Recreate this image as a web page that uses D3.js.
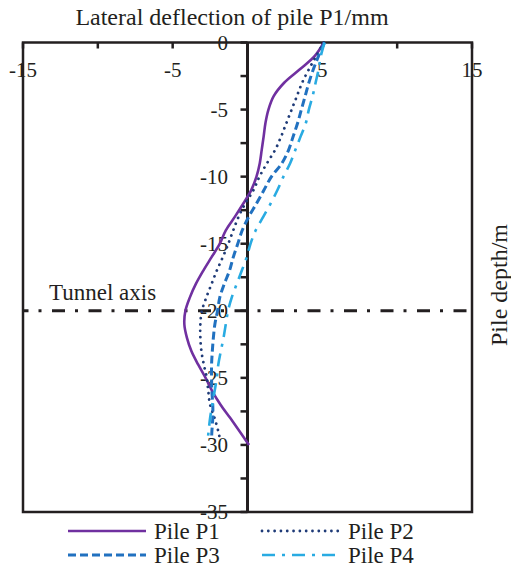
<!DOCTYPE html>
<html>
<head>
<meta charset="utf-8">
<script src="https://cdn.jsdelivr.net/npm/d3@7"></script>
<style>
  body { margin: 0; background: #fff; }
</style>
</head>
<body>
<svg id="chart" width="511" height="567" font-family="'Liberation Serif', 'DejaVu Serif', serif"></svg>
<script>
// depth along pile (m)
var depth = d3.range(0, -31, -1);
var depthShort = d3.range(0, -30, -1).concat([-29.5]);

// lateral deflection (mm)
var pileP1 = [5.1, 4.5, 3.5, 2.45, 1.75, 1.4, 1.2, 1.08, 0.95, 0.82, 0.6, 0.25, -0.28, -0.85, -1.45,
              -1.85, -2.4, -2.95, -3.45, -3.85, -4.15, -4.22, -4.05, -3.75, -3.3, -2.8, -2.35, -1.8, -1.15, -0.52, 0.1];
var pileP2 = [5.1, 4.6, 4.1, 3.65, 3.3, 2.95, 2.6, 2.25, 1.85, 1.3, 0.8, 0.4, -0.15, -0.6, -0.95,
              -1.28, -1.65, -2.05, -2.4, -2.75, -3.05, -3.15, -3.15, -3.08, -2.92, -2.72, -2.62, -2.5, -2.2, -1.95, -1.85];
var pileP3 = [5.15, 4.75, 4.4, 4.1, 3.85, 3.6, 3.35, 3.05, 2.75, 2.3, 1.6, 1.1, 0.6, 0.08, -0.35,
              -0.65, -0.95, -1.2, -1.55, -1.85, -2.0, -2.18, -2.28, -2.35, -2.4, -2.4, -2.38, -2.32, -2.32, -2.38, -2.4];
var pileP4 = [5.15, 4.9, 4.75, 4.55, 4.35, 4.1, 3.9, 3.55, 3.2, 2.85, 2.4, 2.0, 1.55, 1.05, 0.55,
              0.2, -0.05, -0.38, -0.72, -1.05, -1.3, -1.45, -1.6, -1.78, -1.95, -2.05, -2.2, -2.35, -2.5, -2.6, -2.65];

var xTicks = [-15, -10, -5, 0, 5, 10, 15];
var xLabels = [-15, -5, 5, 15];
var yTicks = d3.range(0, -35.1, -2.5);
var yLabels = [0, -5, -10, -15, -20, -25, -30, -35];
var tunnelDepth = -20;

var series = [
  {name: "Pile P1", d: depth, v: pileP1, color: "#7030a0", width: 2.6, dash: null, cap: "butt"},
  {name: "Pile P2", d: depthShort, v: pileP2, color: "#1f3b78", width: 2.8, dash: "0.01,6.3", cap: "round"},
  {name: "Pile P3", d: depthShort, v: pileP3, color: "#2171c0", width: 3, dash: "8,4", cap: "butt"},
  {name: "Pile P4", d: depthShort, v: pileP4, color: "#29abe2", width: 2.6, dash: "13,7,3,7", cap: "butt"}
];

var svg = d3.select("#chart");
var ink = "#231f20";

// scales
var x = d3.scaleLinear().domain([-15, 15]).range([23, 472]);
var y = d3.scaleLinear().domain([0, -35]).range([42.5, 512]);

// frame
svg.append("rect")
   .attr("x", x(-15)).attr("y", y(0))
   .attr("width", x(15) - x(-15)).attr("height", y(-35) - y(0))
   .attr("fill", "none").attr("stroke", ink).attr("stroke-width", 2.5);

// top axis ticks
svg.selectAll(".xtick")
   .data(xTicks)
   .enter()
   .append("line")
   .attr("x1", function(d) { return x(d); })
   .attr("x2", function(d) { return x(d); })
   .attr("y1", y(0))
   .attr("y2", y(0) + 6)
   .attr("stroke", ink).attr("stroke-width", 2.5);

svg.selectAll(".xlabel")
   .data(xLabels)
   .enter()
   .append("text")
   .attr("x", function(d) { return x(d); })
   .attr("y", 77)
   .attr("text-anchor", "middle")
   .attr("fill", ink)
   .style("font-size", "21px")
   .text(function(d) { return d; });

// zero axis with depth ticks
svg.append("line")
   .attr("x1", x(0)).attr("x2", x(0))
   .attr("y1", y(0)).attr("y2", y(-35))
   .attr("stroke", ink).attr("stroke-width", 3);

svg.selectAll(".ytick")
   .data(yTicks)
   .enter()
   .append("line")
   .attr("x1", x(0) - 7)
   .attr("x2", x(0))
   .attr("y1", function(d) { return y(d); })
   .attr("y2", function(d) { return y(d); })
   .attr("stroke", ink).attr("stroke-width", 2.5);

svg.selectAll(".ylabel")
   .data(yLabels)
   .enter()
   .append("text")
   .attr("x", 228)
   .attr("y", function(d) { return y(d); })
   .attr("dy", "0.35em")
   .attr("text-anchor", "end")
   .attr("fill", ink)
   .style("font-size", "21px")
   .text(function(d) { return d; });

// tunnel axis
svg.append("line")
   .attr("x1", x(-15)).attr("x2", x(15))
   .attr("y1", y(tunnelDepth)).attr("y2", y(tunnelDepth))
   .attr("stroke", ink).attr("stroke-width", 3)
   .attr("stroke-dasharray", "13,10,3,10.5")
   .attr("stroke-dashoffset", 7.5);

svg.append("text")
   .attr("x", 49).attr("y", 300)
   .attr("fill", ink)
   .style("font-size", "23px")
   .text("Tunnel axis");

// curves
var line = d3.line()
    .x(function(p) { return x(p[1]); })
    .y(function(p) { return y(p[0]); })
    .curve(d3.curveCatmullRom);

series.forEach(function(s) {
  var pts = s.d.map(function(dd, i) { return [dd, s.v[i]]; });
  svg.append("path")
     .datum(pts)
     .attr("d", line)
     .attr("fill", "none")
     .attr("stroke", s.color)
     .attr("stroke-width", s.width)
     .attr("stroke-linecap", s.cap)
     .attr("stroke-dasharray", s.dash);
});

// titles
svg.append("text")
   .attr("x", 232).attr("y", 25)
   .attr("text-anchor", "middle")
   .attr("fill", ink)
   .style("font-size", "24px")
   .text("Lateral deflection of pile P1/mm");

svg.append("text")
   .attr("transform", "translate(507,285) rotate(-90)")
   .attr("text-anchor", "middle")
   .attr("fill", ink)
   .style("font-size", "24px")
   .text("Pile depth/m");

// legend
var legendPos = [[68, 531], [262, 531], [68, 555], [262, 555]];
series.forEach(function(s, i) {
  var p = legendPos[i];
  svg.append("line")
     .attr("x1", p[0]).attr("x2", p[0] + 78)
     .attr("y1", p[1]).attr("y2", p[1])
     .attr("stroke", s.color)
     .attr("stroke-width", s.width)
     .attr("stroke-linecap", s.cap)
     .attr("stroke-dasharray", s.dash);
  svg.append("text")
     .attr("x", p[0] + 86).attr("y", p[1] + 7.5)
     .attr("fill", ink)
     .style("font-size", "23px")
     .text(s.name);
});
</script>
</body>
</html>
